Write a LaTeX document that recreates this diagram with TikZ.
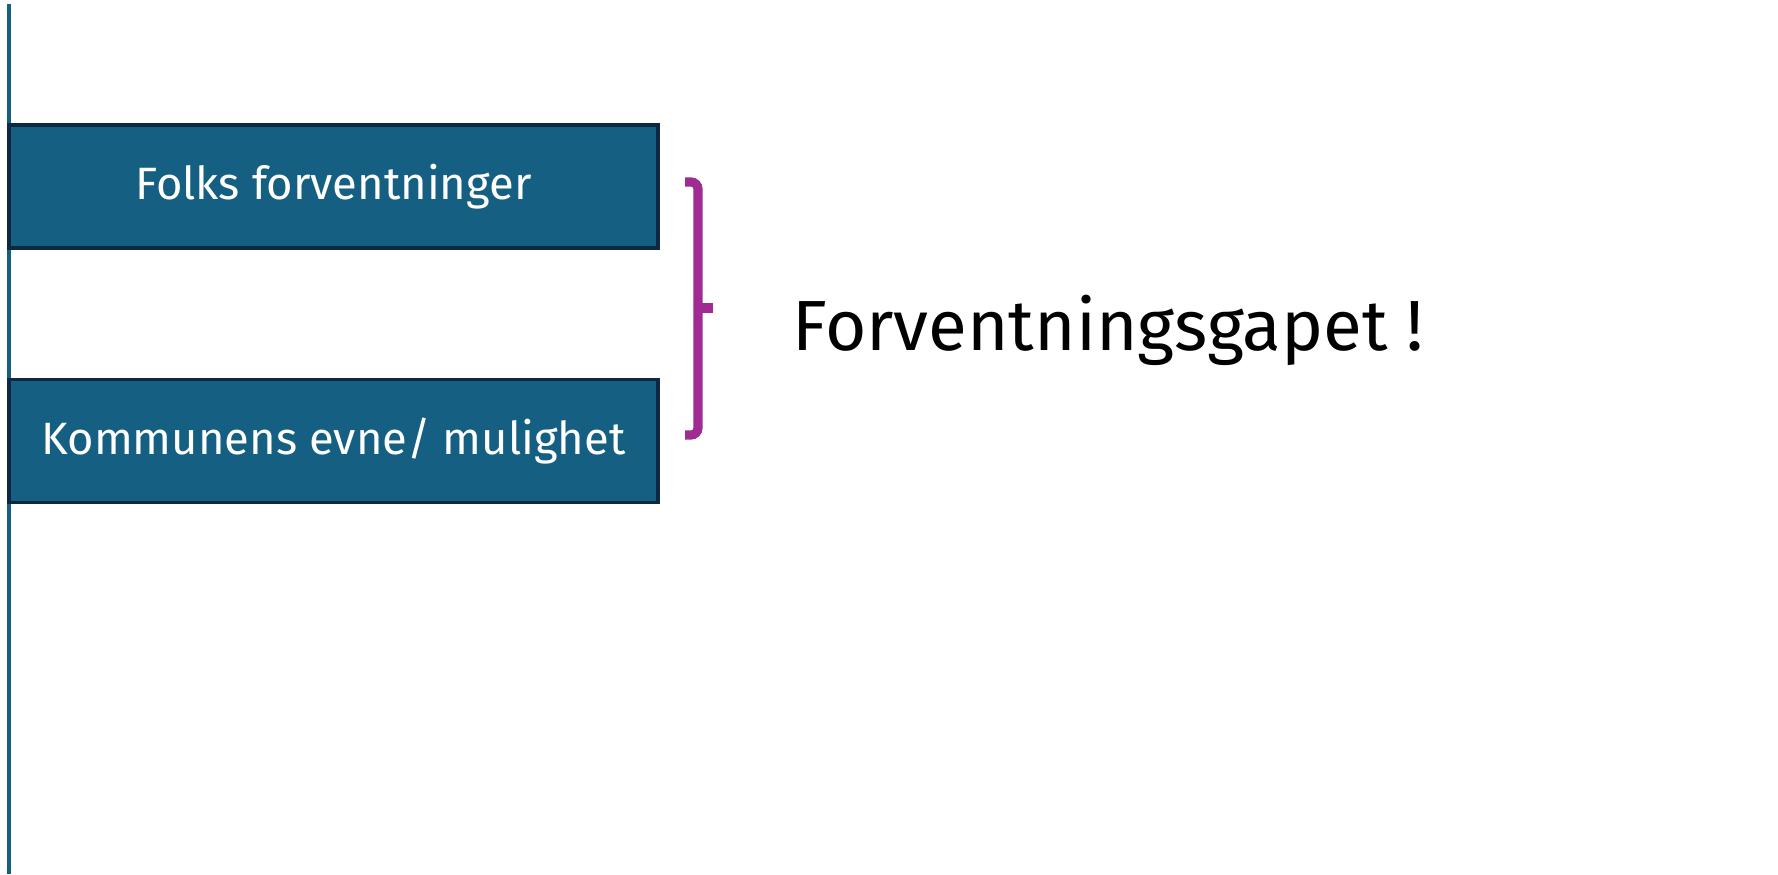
\documentclass[tikz,border=0pt]{standalone}
\usepackage{fontspec}
\setmainfont{Fira Sans}
\usepackage{xcolor}
\usetikzlibrary{positioning}

\definecolor{boxblue}{HTML}{156082}
\definecolor{darknavy}{HTML}{0E2841}
\definecolor{bracepurple}{HTML}{A02B93}

\begin{document}
\begin{tikzpicture}[
    % Styles for the two bars and the label
    bar/.style={
        rectangle,
        draw=darknavy,
        line width=1pt,
        fill=boxblue,
        text=white,
        font=\fontsize{12.9}{15}\selectfont,
        minimum width=6.49cm,
        minimum height=1.23cm,
        inner sep=0pt
    },
    gaplabel/.style={
        text=black,
        font=\fontsize{20.2}{24}\selectfont,
        inner sep=0pt
    },
    bracket/.style={
        draw=bracepurple,
        line width=2.6pt,
        rounded corners=2pt
    }
]
    \useasboundingbox (0,0) rectangle (17.78,8.74);

    % --- Axis on the left ---
    \draw[boxblue, line width=1pt] (0.09,8.70) -- (0.09,0);

    % --- Bars ---
    \node[bar] (folks) at (3.335,6.875) {Folks forventninger};
    \node[bar] (kommune) at (3.335,4.33) {Kommunens evne/ mulighet};

    % --- Brace and label ---
    \draw[bracket] (6.85,6.92) -- (6.98,6.92) -- (6.98,4.39) -- (6.85,4.39);
    \draw[draw=bracepurple, line width=2.6pt] (6.98,5.66) -- (7.13,5.66);
    \node[gaplabel, anchor=base west] (gap) at (7.92,5.23) {Forventningsgapet !};

\end{tikzpicture}
\end{document}
